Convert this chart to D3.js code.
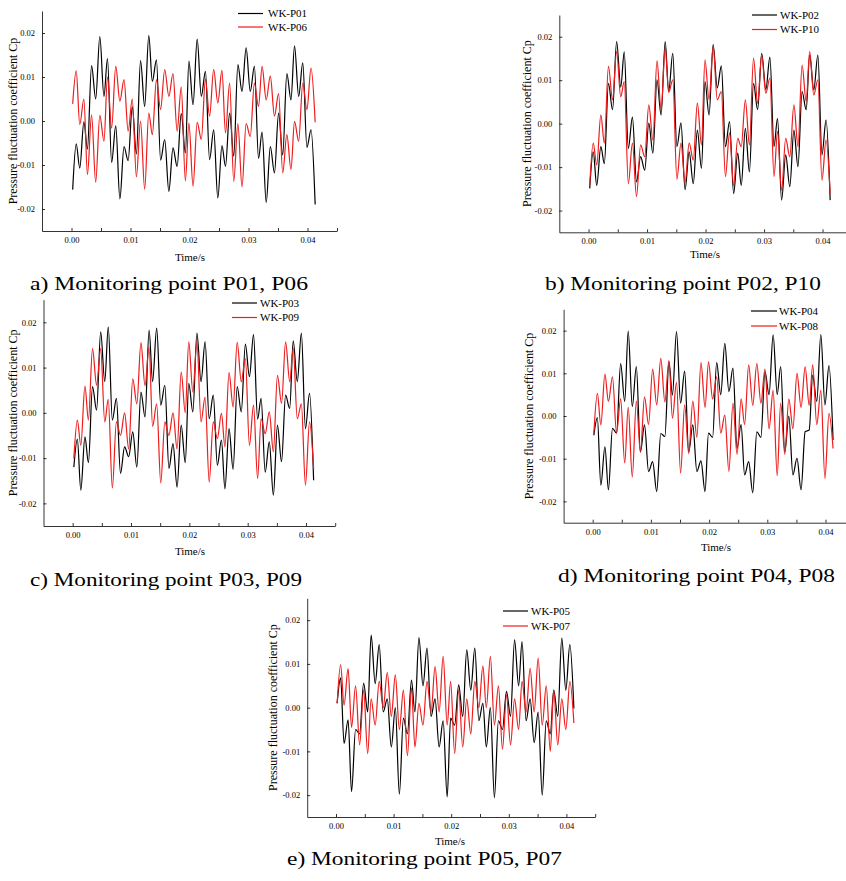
<!DOCTYPE html>
<html lang="en">
<head>
<meta charset="UTF-8">
<title>Pressure fluctuation coefficient</title>
<script src="https://cdn.jsdelivr.net/npm/d3@7/dist/d3.min.js"></script>
<style>
  body { margin: 0; background: #fff; }
  svg text { font-family: "Times New Roman", Times, "Liberation Serif", "Nimbus Roman", serif; fill: #000; }
  .axis path, .axis line { stroke: #000; stroke-width: 0.8; }
</style>
</head>
<body>
<div id="chart"></div>
<script>
// time of each local extremum (s), shared by all monitoring points
const tGrid = [0.0002, 0.0008, 0.0014, 0.0021, 0.0027, 0.0034, 0.0041, 0.0048, 0.0055, 0.0061,
  0.0068, 0.0075, 0.0082, 0.0089, 0.0096, 0.0103, 0.011, 0.0117, 0.0124, 0.0131,
  0.0137, 0.0144, 0.0151, 0.0158, 0.0165, 0.0172, 0.0179, 0.0186, 0.0193, 0.0199,
  0.0206, 0.0213, 0.022, 0.0227, 0.0234, 0.0241, 0.0248, 0.0255, 0.0261, 0.0268,
  0.0275, 0.0282, 0.0289, 0.0296, 0.0303, 0.031, 0.0317, 0.0323, 0.033, 0.0337,
  0.0344, 0.0351, 0.0358, 0.0365, 0.0372, 0.0378, 0.0385, 0.0392, 0.0399, 0.0406, 0.0413];

const p01 = [-0.0156, -0.0052, -0.0107, -0.0002, -0.0064, 0.0126, 0.005, 0.0192, 0.0056, 0.0142,
  -0.0094, -0.0011, -0.0177, -0.0058, -0.009, 0.0032, -0.0075, 0.0137, 0.0033, 0.0194,
  0.009, 0.0139, -0.0089, -0.0042, -0.016, -0.0061, -0.0103, 0.0017, -0.0073, 0.0136,
  0.0037, 0.0186, 0.0056, 0.0113, -0.0088, -0.002, -0.0175, -0.0056, -0.0103, 0.0018,
  -0.008, 0.0128, 0.0067, 0.0166, 0.0067, 0.0124, -0.0085, -0.0025, -0.0185, -0.0058,
  -0.0118, 0.0018, -0.0077, 0.0108, 0.0048, 0.0171, 0.0056, 0.0132, -0.006, -0.002, -0.019];
const p06 = [0.0039, 0.0114, -0.0008, 0.005, -0.0122, 0.0014, -0.0139, 0.0013, -0.0046, 0.01,
  -0.0016, 0.0124, 0.0045, 0.0094, -0.0023, 0.005, -0.0127, 0.0, -0.0155, 0.0018,
  -0.0031, 0.0094, 0.0026, 0.0117, 0.0056, 0.0108, -0.0023, 0.0077, -0.0136, -0.0005,
  -0.0148, -0.0003, -0.0042, 0.0095, 0.0011, 0.0117, 0.0041, 0.0115, -0.0027, 0.0086,
  -0.0137, -0.0006, -0.015, -0.0006, -0.0035, 0.0086, 0.0033, 0.0124, 0.0048, 0.0102,
  0.0011, 0.0062, -0.0118, -0.0031, -0.011, -0.0001, -0.0046, 0.0086, 0.0026, 0.012, -0.0003];

const p02 = [-0.0149, -0.0065, -0.0142, -0.0053, -0.0092, 0.0093, 0.0032, 0.0189, 0.0084, 0.0165,
  -0.0057, 0.0015, -0.0134, -0.0076, -0.0107, 0.0001, -0.0068, 0.0101, 0.002, 0.0189,
  0.0074, 0.0162, -0.0053, 0.0002, -0.0152, -0.0065, -0.0138, -0.0015, -0.0103, 0.0097,
  0.002, 0.0182, 0.0082, 0.0133, -0.0053, 0.0005, -0.0161, -0.0068, -0.0142, -0.0011,
  -0.0111, 0.0093, 0.0032, 0.0162, 0.0078, 0.0153, -0.0053, 0.0012, -0.0176, -0.0072,
  -0.0145, -0.0015, -0.0099, 0.0074, 0.0032, 0.0158, 0.0078, 0.0158, -0.0072, 0.0008, -0.0176];
const p10 = [-0.0142, -0.0045, -0.0095, 0.002, -0.0045, 0.0132, 0.0055, 0.0166, 0.0062, 0.0097,
  -0.0138, -0.0045, -0.0168, -0.0049, -0.0076, 0.0043, -0.0038, 0.0145, 0.0032, 0.0174,
  0.0072, 0.0101, -0.0128, -0.0045, -0.0135, -0.0045, -0.0084, 0.0047, -0.0049, 0.0147,
  0.0055, 0.0178, 0.0055, 0.0074, -0.0122, -0.0021, -0.0142, -0.0034, -0.0053, 0.0055,
  -0.0049, 0.0151, 0.0047, 0.0158, 0.007, 0.0105, -0.0122, -0.0018, -0.0153, -0.0034,
  -0.0076, 0.0043, -0.0053, 0.0135, 0.0051, 0.0166, 0.0066, 0.0101, -0.013, -0.0038, -0.0161];

const p03 = [-0.012, -0.0058, -0.0171, -0.0053, -0.011, 0.0058, 0.0006, 0.0179, 0.0069, 0.019,
  -0.0016, 0.0032, -0.0134, -0.0075, -0.0097, -0.0042, -0.012, 0.0046, -0.0009, 0.0183,
  0.0069, 0.0187, 0.0017, 0.0061, -0.0123, -0.0068, -0.0164, -0.0027, -0.011, 0.0065,
  0.0002, 0.0176, 0.0069, 0.0157, -0.0013, 0.0039, -0.0116, -0.006, -0.0168, -0.0035,
  -0.0125, 0.0058, 0.0002, 0.0152, 0.008, 0.0173, -0.0014, 0.0032, -0.0131, -0.0064,
  -0.0182, -0.0027, -0.0108, 0.0039, 0.001, 0.0159, 0.0069, 0.0176, -0.0035, 0.0043, -0.0149];
const p09 = [-0.0101, -0.0016, -0.0072, 0.0059, -0.0016, 0.0142, 0.0061, 0.0142, -0.002, 0.003,
  -0.0166, -0.002, -0.005, 0.0, -0.008, 0.0075, 0.002, 0.0155, 0.006, 0.0145,
  -0.003, 0.002, -0.0155, -0.002, -0.005, 0.0, -0.008, 0.009, 0.0, 0.0157,
  0.0046, 0.0157, -0.002, 0.0035, -0.0153, -0.002, -0.0057, -0.0001, -0.0075, 0.0089,
  0.0013, 0.0156, 0.0069, 0.012, -0.0072, 0.0017, -0.0145, -0.0013, -0.0046, 0.0002,
  -0.0086, 0.0083, 0.0021, 0.0157, 0.0069, 0.0142, -0.0013, 0.002, -0.016, -0.002, -0.0123];

const p04 = [-0.0045, -0.0004, -0.0162, -0.0072, -0.0173, -0.0029, -0.004, 0.0123, 0.0034, 0.0199,
  0.0022, 0.0116, -0.0084, -0.0021, -0.013, -0.0107, -0.0177, -0.0041, -0.0048, 0.0127,
  0.0049, 0.0198, 0.003, 0.0105, -0.0084, -0.0021, -0.013, -0.0105, -0.0177, -0.004,
  -0.005, 0.0125, 0.005, 0.017, 0.0057, 0.0112, -0.0076, -0.002, -0.0138, -0.0107,
  -0.018, -0.0037, -0.005, 0.0104, 0.005, 0.019, 0.005, 0.0116, -0.0084, 0.0,
  -0.0138, -0.0099, -0.0173, -0.0037, -0.0033, 0.0096, 0.0034, 0.0191, 0.0026, 0.0118, -0.0056];
const p08 = [-0.004, 0.0053, -0.0021, 0.0098, 0.0034, 0.0092, -0.004, 0.004, -0.011, 0.002,
  -0.0143, 0.0035, -0.0085, 0.0045, -0.002, 0.011, 0.0026, 0.0135, 0.0033, 0.013,
  -0.0005, 0.0079, -0.0134, 0.0026, -0.0088, 0.0035, -0.005, 0.0125, 0.002, 0.0127,
  0.004, 0.0092, -0.004, 0.0002, -0.013, 0.003, -0.009, 0.004, -0.002, 0.012,
  0.0025, 0.0123, 0.003, 0.011, -0.003, 0.006, -0.014, 0.003, -0.009, 0.004,
  -0.003, 0.01, 0.002, 0.0115, 0.0025, 0.012, -0.002, 0.006, -0.0146, 0.0006, -0.0076];

const p05 = [0.001, 0.0068, -0.0082, -0.0028, -0.0192, -0.005, -0.006, 0.0056, -0.001, 0.0166,
  0.0055, 0.0144, -0.001, 0.002, -0.009, 0.0, -0.0198, -0.0024, -0.006, 0.0063,
  -0.001, 0.016, 0.005, 0.0136, -0.002, 0.002, -0.009, -0.003, -0.0204, -0.0024,
  -0.004, 0.0052, -0.002, 0.0132, 0.004, 0.0136, -0.003, 0.001, -0.009, 0.0,
  -0.0206, -0.003, -0.005, 0.0037, -0.002, 0.0155, 0.005, 0.0151, -0.003, 0.002,
  -0.008, -0.001, -0.02, -0.003, -0.006, 0.004, -0.002, 0.0159, 0.004, 0.0144, -0.0002];
const p07 = [0.001, 0.0098, 0.0006, 0.0089, -0.0045, 0.005, -0.0085, 0.004, -0.0105, 0.002,
  -0.004, 0.006, 0.0, 0.008, -0.002, 0.0075, -0.005, 0.004, -0.011, 0.0045,
  -0.009, 0.001, -0.004, 0.006, -0.001, 0.0094, -0.001, 0.0117, -0.004, 0.006,
  -0.0105, 0.004, -0.009, 0.002, -0.006, 0.006, 0.0, 0.0095, 0.0, 0.0117,
  -0.004, 0.005, -0.0095, 0.003, -0.0085, 0.002, -0.005, 0.006, -0.001, 0.009,
  -0.001, 0.0113, -0.004, 0.005, -0.01, 0.004, -0.0085, 0.002, -0.005, 0.006, -0.0035];

const xTicks = [0, 0.01, 0.02, 0.03, 0.04];
const xMinor = [0.005, 0.015, 0.025, 0.035, 0.045];
const yTicks = [-0.02, -0.01, 0, 0.01, 0.02];

const W = 846, H = 881;
const svg = d3.select("#chart").append("svg")
  .attr("width", W).attr("height", H)
  .style("background", "#fff");

const panels = [
  {x0: 42, x1: 337, yb: 231, yt: 11, ylx: 13, tx: 190, ty: 257,
   lg: [238, 263, 268, 13.5, 27], names: ["WK-P01", "WK-P06"], data: [p01, p06],
   cap: "a) Monitoring point P01, P06", cx: 30, cy: 290, cw: 278},
  {x0: 559.3, x1: 851.8, yb: 232.3, yt: 15, ylx: 527, tx: 705, ty: 254,
   lg: [752, 777, 780, 15, 29.5], names: ["WK-P02", "WK-P10"], data: [p02, p10],
   cap: "b) Monitoring point P02, P10", cx: 545, cy: 290, cw: 276},
  {x0: 43.5, x1: 335.2, yb: 526, yt: 299.7, ylx: 13, tx: 190, ty: 551,
   lg: [232, 257, 260, 303, 317.5], names: ["WK-P03", "WK-P09"], data: [p03, p09],
   cap: "c) Monitoring point P03, P09", cx: 30, cy: 586, cw: 272},
  {x0: 563.6, x1: 854.6, yb: 522.7, yt: 309.3, ylx: 529, tx: 716, ty: 547,
   lg: [751, 777, 779, 311, 326], names: ["WK-P04", "WK-P08"], data: [p04, p08],
   cap: "d) Monitoring point P04, P08", cx: 558, cy: 582, cw: 277},
  {x0: 307.2, x1: 595.2, yb: 817, yt: 598.3, ylx: 273, tx: 450, ty: 841,
   lg: [503, 528, 531, 611, 626], names: ["WK-P05", "WK-P07"], data: [p05, p07],
   cap: "e) Monitoring point P05, P07", cx: 287, cy: 865, cw: 275}
];

const colors = ["#000000", "#ee1c1c"];
const fmt = d => d.toFixed(2);

panels.forEach(function (p) {
  const x = d3.scaleLinear().domain([-0.005, 0.045]).range([p.x0, p.x1]);
  const y = d3.scaleLinear().domain([-0.025, 0.025]).range([p.yb, p.yt]);
  const g = svg.append("g");

  // x axis with inward ticks
  const xa = g.append("g").attr("class", "axis")
    .attr("transform", "translate(0," + p.yb + ")")
    .call(d3.axisBottom(x).tickValues(xTicks.concat(xMinor)).tickSize(-3).tickSizeOuter(0)
      .tickPadding(6).tickFormat(d => xTicks.indexOf(d) >= 0 ? fmt(d) : ""));
  xa.attr("font-family", null);
  xa.selectAll("text").attr("font-size", 8.5);

  const ya = g.append("g").attr("class", "axis")
    .attr("transform", "translate(" + p.x0 + ",0)")
    .call(d3.axisLeft(y).tickValues(yTicks).tickSize(-3).tickSizeOuter(0)
      .tickPadding(7).tickFormat(fmt));
  ya.attr("font-family", null);
  ya.selectAll("text").attr("font-size", 8.5);

  // series
  const line = d3.line()
    .x((d, i) => x(tGrid[i]))
    .y(d => y(d))
    .curve(d3.curveMonotoneX);
  p.data.forEach(function (vals, k) {
    g.append("path")
      .attr("d", line(vals))
      .attr("fill", "none")
      .attr("stroke", colors[k])
      .attr("stroke-width", 1.2);
  });

  // legend
  p.names.forEach(function (name, k) {
    const ly = p.lg[3 + k];
    g.append("line")
      .attr("x1", p.lg[0]).attr("x2", p.lg[1])
      .attr("y1", ly).attr("y2", ly)
      .attr("stroke", colors[k]).attr("stroke-width", 1.2);
    g.append("text")
      .attr("x", p.lg[2]).attr("y", ly).attr("dy", "0.35em")
      .attr("font-size", 11).text(name);
  });

  g.append("text")
    .attr("transform", "translate(" + p.ylx + "," + ((p.yb + p.yt) / 2) + ") rotate(-90)")
    .attr("text-anchor", "middle").attr("dy", "0.35em")
    .attr("font-size", 12)
    .text("Pressure fluctuation coefficient Cp");

  g.append("text")
    .attr("x", p.tx).attr("y", p.ty).attr("dy", "0.35em")
    .attr("text-anchor", "middle").attr("font-size", 11)
    .text("Time/s");

  svg.append("text")
    .attr("x", p.cx).attr("y", p.cy)
    .attr("font-size", 19)
    .attr("textLength", p.cw).attr("lengthAdjust", "spacingAndGlyphs")
    .text(p.cap);
});
</script>
</body>
</html>
